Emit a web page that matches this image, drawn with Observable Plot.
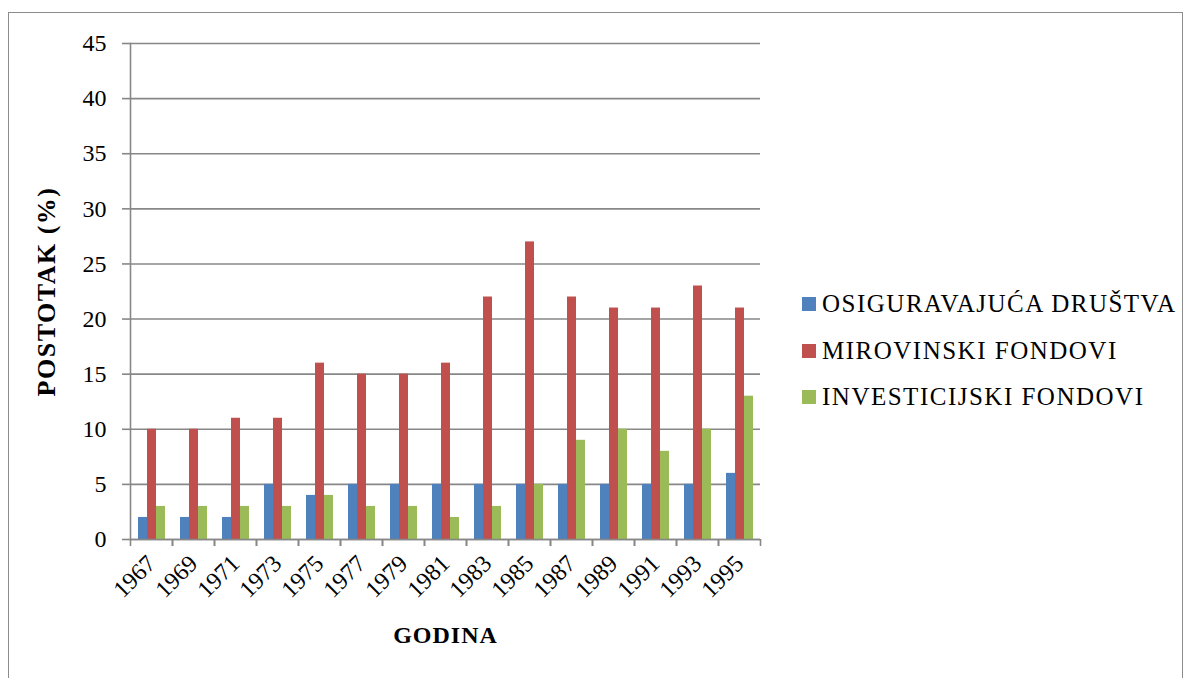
<!DOCTYPE html>
<html>
<head>
<meta charset="utf-8">
<script src="https://cdn.jsdelivr.net/npm/d3@7"></script>
<script src="https://cdn.jsdelivr.net/npm/@observablehq/plot@0.6"></script>
<style>
  html, body { margin: 0; padding: 0; background: #fff; }
  #wrap { position: relative; width: 1191px; height: 678px; overflow: hidden; font-family: "Liberation Serif", "DejaVu Serif", serif; }
  #border { position: absolute; left: 8px; top: 12px; width: 1175px; height: 670px; border: 1.5px solid #8c8c8c; box-sizing: border-box; }
  #chart { position: absolute; left: 0; top: 0; }
  #chart svg g[aria-label="y-axis label"] text { font-weight: bold; font-size: 26px; letter-spacing: 1.5px; }
  #chart svg g[aria-label="fx-axis label"] text { font-weight: bold; font-size: 24px; letter-spacing: 1px; }
  #legend { position: absolute; left: 802px; top: 281px; }
  .item { display: flex; align-items: center; height: 46.5px; font-size: 25px; letter-spacing: 1.5px; color: #000; white-space: nowrap; font-family: "Liberation Serif", "DejaVu Serif", serif; }
  .sw { width: 14px; height: 14px; margin-right: 6px; flex: none; }
</style>
</head>
<body>
<div id="wrap">
  <div id="border"></div>
  <div id="chart"></div>
  <div id="legend"></div>
</div>
<script>
const years = [1967, 1969, 1971, 1973, 1975, 1977, 1979, 1981, 1983, 1985, 1987, 1989, 1991, 1993, 1995];
const series = ["OSIGURAVAJUĆA DRUŠTVA", "MIROVINSKI FONDOVI", "INVESTICIJSKI FONDOVI"];
const osiguravajuca = [2, 2, 2, 5, 4, 5, 5, 5, 5, 5, 5, 5, 5, 5, 6];
const mirovinski = [10, 10, 11, 11, 16, 15, 15, 16, 22, 27, 22, 21, 21, 23, 21];
const investicijski = [3, 3, 3, 3, 4, 3, 3, 2, 3, 5, 9, 10, 8, 10, 13];
const colors = ["#4F81BD", "#C0504D", "#9BBB59"];
const yTicks = [0, 5, 10, 15, 20, 25, 30, 35, 40, 45];

const seriesValues = [osiguravajuca, mirovinski, investicijski];
const data = years.flatMap((yr, i) => series.map((s, j) => ({year: yr, series: s, value: seriesValues[j][i]})));

const W = 790, H = 670, mL = 130, mR = 30, mT = 43, mB = 131;
const halfBand = (W - mL - mR) / years.length / 2;
const gridColor = "#878787";
const serif = "'Liberation Serif', 'DejaVu Serif', serif";

const chart = Plot.plot({
  width: W, height: H,
  marginLeft: mL, marginRight: mR, marginTop: mT, marginBottom: mB,
  style: {fontFamily: serif, fontSize: "20px", color: "#000", background: "transparent", overflow: "visible"},
  fx: {domain: years, padding: 0, axis: null},
  x: {domain: series, paddingInner: 0, paddingOuter: 0.75, axis: null},
  y: {domain: [0, 45]},
  color: {domain: series, range: colors},
  marks: [
    Plot.gridY(yTicks, {stroke: gridColor, strokeOpacity: 1, strokeWidth: 1.6}),
    Plot.barY(data, {fx: "year", x: "series", y: "value", fill: "series"}),
    Plot.ruleY([0], {stroke: gridColor, strokeWidth: 1.6}),
    Plot.frame({anchor: "left", facetAnchor: "left", stroke: gridColor, strokeWidth: 1.6}),
    Plot.axisY(yTicks, {tickSize: 8, tickPadding: 16, stroke: gridColor, strokeWidth: 1.6, fill: "#000", fontSize: 24,
      fontFamily: serif, label: "POSTOTAK (%)", labelAnchor: "center", labelOffset: 94, labelArrow: "none"}),
    Plot.axisFx({anchor: "bottom", tickRotate: -45, tickSize: 0, tickPadding: 20, fill: "#000", fontSize: 24,
      fontFamily: serif, tickFormat: d => String(d),
      label: "GODINA", labelAnchor: "center", labelOffset: 103, labelArrow: "none"}),
    Plot.axisFx({anchor: "bottom", tickSize: 7, tickFormat: () => "", label: null, dx: -halfBand, stroke: gridColor, strokeWidth: 1.6}),
    Plot.axisFx([years[years.length - 1]], {anchor: "bottom", tickSize: 7, tickFormat: () => "", label: null, dx: halfBand, stroke: gridColor, strokeWidth: 1.6})
  ]
});
document.getElementById("chart").appendChild(chart);

const legend = document.getElementById("legend");
series.forEach((s, i) => {
  const item = document.createElement("div");
  item.className = "item";
  const sw = document.createElement("span");
  sw.className = "sw";
  sw.style.background = colors[i];
  item.appendChild(sw);
  item.appendChild(document.createTextNode(s));
  legend.appendChild(item);
});
</script>
</body>
</html>
